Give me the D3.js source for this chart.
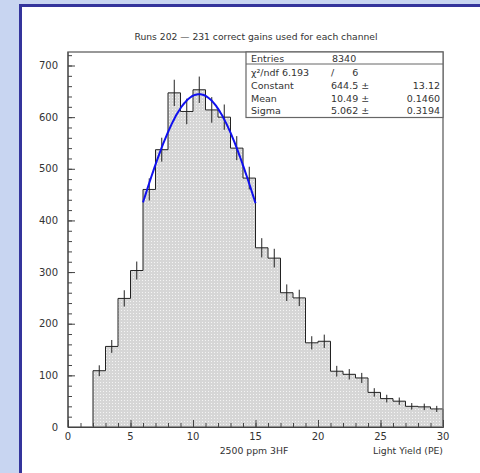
<!DOCTYPE html>
<html>
<head>
<meta charset="utf-8">
<script src="https://cdn.jsdelivr.net/npm/d3@7"></script>
<style>
  body { margin: 0; background: #c8d5f1; }
  svg { display: block; }
  text { font-family: "DejaVu Sans", "Liberation Sans", sans-serif; fill: #333; }
</style>
</head>
<body>
<div id="chart"></div>
<script>
// histogram bins (lower edges, width 1 PE) and counts
const lowEdges = [2, 3, 4, 5, 6, 7, 8, 9, 10, 11, 12, 13, 14, 15, 16, 17, 18, 19, 20, 21, 22, 23, 24, 25, 26, 27, 28, 29];
const counts = [109, 156, 249, 303, 460, 537, 647, 611, 653, 614, 600, 540, 482, 347, 327, 260, 250, 163, 166, 108, 102, 95, 67, 55, 50, 40, 39, 35];

// gaussian fit parameters and fit range
const fitParams = { constant: 644.5, mean: 10.49, sigma: 5.062 };
const fitRange = [6, 15];

const xTicks = [0, 5, 10, 15, 20, 25, 30];
const yTicks = [0, 100, 200, 300, 400, 500, 600, 700];

const title = "Runs 202 \u2014 231 correct gains used for each channel";
const xLabel = "Light Yield (PE)";
const subLabel = "2500 ppm 3HF";

const statsRows = [
  ["\u03c7\u00b2/ndf 6.193", "/      6", ""],
  ["Constant", "644.5 \u00b1", "13.12"],
  ["Mean", "10.49 \u00b1", "0.1460"],
  ["Sigma", "5.062 \u00b1", "0.3194"]
];
const entries = "8340";

const width = 480, height = 473;

const svg = d3.select("#chart")
  .append("svg")
  .attr("width", width)
  .attr("height", height);

// white panel with blue edge
svg.append("rect")
  .attr("x", 19).attr("y", 4)
  .attr("width", width - 19).attr("height", height - 4)
  .attr("fill", "#fff");
svg.append("path")
  .attr("d", `M20.5,${height}V5.5H${width}`)
  .attr("fill", "none")
  .attr("stroke", "#34349c")
  .attr("stroke-width", 3);

const x = d3.scaleLinear().domain([0, 30]).range([68, 443]);
const y = d3.scaleLinear().domain([0, 700]).range([427, 65.5]);
const frameTop = 52;

// dotted grey fill
const defs = svg.append("defs");
const pat = defs.append("pattern")
  .attr("id", "dots")
  .attr("patternUnits", "userSpaceOnUse")
  .attr("width", 3).attr("height", 3);
pat.append("rect").attr("width", 3).attr("height", 3).attr("fill", "#d6d6d6");
pat.append("rect").attr("x", 1).attr("y", 1).attr("width", 1).attr("height", 1).attr("fill", "#f4f4f4");

// title
svg.append("text")
  .attr("x", 256).attr("y", 40)
  .attr("text-anchor", "middle")
  .attr("font-size", 9.2)
  .text(title);

// histogram area + outline
const bins = lowEdges.map((lo, i) => ({ lo, hi: lo + 1, n: counts[i] }));
const stepPts = [];
stepPts.push([bins[0].lo, 0]);
bins.forEach(b => { stepPts.push([b.lo, b.n]); stepPts.push([b.hi, b.n]); });
stepPts.push([bins[bins.length - 1].hi, 0]);

const line = d3.line().x(d => x(d[0])).y(d => y(d[1]));
svg.append("path")
  .attr("d", line(stepPts) + "Z")
  .attr("fill", "url(#dots)");
svg.append("path")
  .attr("d", line(stepPts))
  .attr("fill", "none")
  .attr("stroke", "#222")
  .attr("stroke-width", 1);

// error bars sqrt(N)
svg.append("g")
  .selectAll("line")
  .data(bins)
  .join("line")
    .attr("x1", d => x((d.lo + d.hi) / 2))
    .attr("x2", d => x((d.lo + d.hi) / 2))
    .attr("y1", d => y(d.n - Math.sqrt(d.n)))
    .attr("y2", d => y(d.n + Math.sqrt(d.n)))
    .attr("stroke", "#222")
    .attr("stroke-width", 1);

// gaussian fit
const gauss = v => fitParams.constant * Math.exp(-0.5 * Math.pow((v - fitParams.mean) / fitParams.sigma, 2));
const fitPts = d3.range(fitRange[0], fitRange[1] + 0.001, 0.1).map(v => [v, gauss(v)]);
svg.append("path")
  .attr("d", d3.line().curve(d3.curveBasis).x(d => x(d[0])).y(d => y(d[1]))(fitPts))
  .attr("fill", "none")
  .attr("stroke", "#1010ee")
  .attr("stroke-width", 2);

// frame
svg.append("rect")
  .attr("x", x(0)).attr("y", frameTop)
  .attr("width", x(30) - x(0)).attr("height", y(0) - frameTop)
  .attr("fill", "none")
  .attr("stroke", "#777")
  .attr("stroke-width", 1.5);

// axes: major + minor ticks drawn inward
const xAxisG = svg.append("g").attr("transform", `translate(0,${y(0)})`);
xAxisG.append("g")
  .call(d3.axisBottom(x).tickValues(d3.range(0, 31, 1)).tickSize(-4).tickSizeOuter(0).tickFormat(""));
xAxisG.append("g")
  .call(d3.axisBottom(x).tickValues(xTicks).tickSize(-7).tickSizeOuter(0).tickPadding(0).tickFormat(d3.format("d")));
xAxisG.selectAll("text").remove();
xAxisG.selectAll("path.domain").attr("stroke", "#444");
xAxisG.selectAll("line").attr("stroke", "#444");

svg.append("g")
  .selectAll("text")
  .data(xTicks)
  .join("text")
    .attr("x", d => x(d))
    .attr("y", 440)
    .attr("text-anchor", "middle")
    .attr("font-size", 10)
    .attr("fill", "#555")
    .text(d => d);

const yAxisG = svg.append("g").attr("transform", `translate(${x(0)},0)`);
yAxisG.append("g")
  .call(d3.axisLeft(y).tickValues(d3.range(0, 721, 20)).tickSize(-4).tickSizeOuter(0).tickFormat(""));
yAxisG.append("g")
  .call(d3.axisLeft(y).tickValues(yTicks).tickSize(-7).tickSizeOuter(0).tickFormat(""));
yAxisG.selectAll("path.domain").remove();
yAxisG.selectAll("line").attr("stroke", "#444");
svg.append("line")
  .attr("x1", x(0)).attr("x2", x(0))
  .attr("y1", frameTop).attr("y2", y(0))
  .attr("stroke", "#444");

svg.append("g")
  .selectAll("text")
  .data(yTicks)
  .join("text")
    .attr("x", 58)
    .attr("y", d => y(d) + 3.6)
    .attr("text-anchor", "end")
    .attr("font-size", 10)
    .attr("fill", "#555")
    .text(d => d);

// axis labels
svg.append("text")
  .attr("x", 254).attr("y", 454)
  .attr("text-anchor", "middle")
  .attr("font-size", 9.3)
  .text(subLabel);
svg.append("text")
  .attr("x", 443).attr("y", 454)
  .attr("text-anchor", "end")
  .attr("font-size", 9.3)
  .text(xLabel);

// stats box
const box = svg.append("g");
box.append("rect")
  .attr("x", 246).attr("y", frameTop)
  .attr("width", x(30) - 246).attr("height", 117.5 - frameTop)
  .attr("fill", "#fff")
  .attr("stroke", "#666")
  .attr("stroke-width", 1.2);
box.append("line")
  .attr("x1", 246).attr("x2", x(30))
  .attr("y1", 64).attr("y2", 64)
  .attr("stroke", "#666");
box.append("text").attr("x", 251).attr("y", 61.5).attr("font-size", 9.5).text("Entries");
box.append("text").attr("x", 332).attr("y", 61.5).attr("font-size", 9.5).text(entries);

const rowY = [75.5, 88.5, 101.5, 114];
statsRows.forEach((r, i) => {
  box.append("text").attr("x", 251).attr("y", rowY[i]).attr("font-size", 9.5).text(r[0]);
  box.append("text").attr("x", 331).attr("y", rowY[i]).attr("font-size", 9.5).attr("xml:space", "preserve").text(r[1]);
  box.append("text").attr("x", 440).attr("y", rowY[i]).attr("font-size", 9.5).attr("text-anchor", "end").text(r[2]);
});
</script>
</body>
</html>
